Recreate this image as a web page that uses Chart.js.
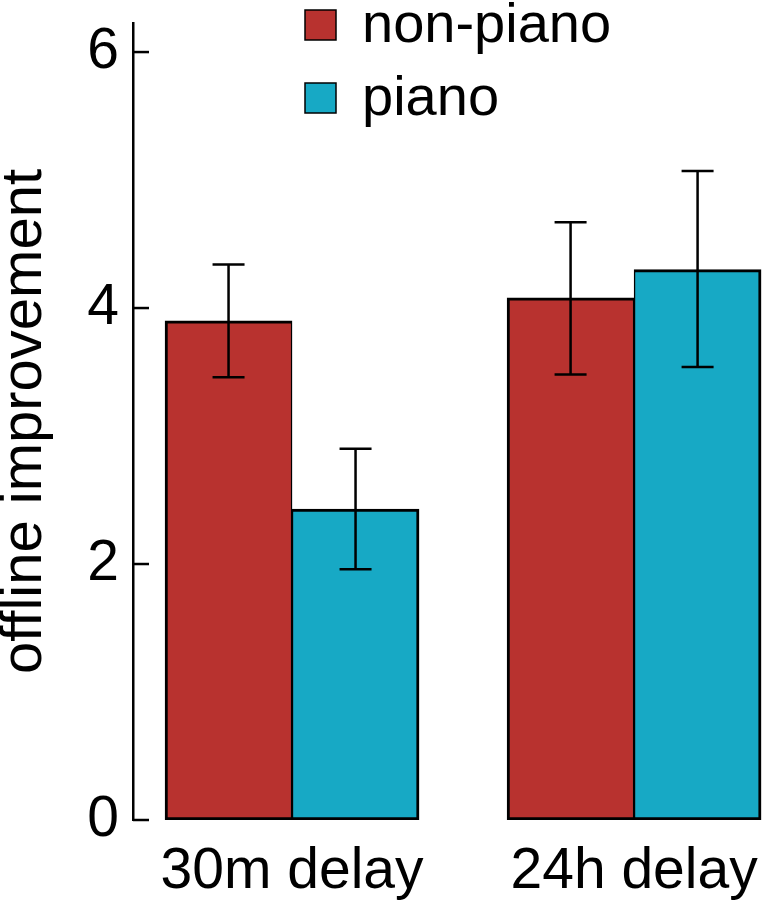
<!DOCTYPE html>
<html>
<head>
<meta charset="utf-8">
<script src="https://cdn.jsdelivr.net/npm/chart.js@4.4.1/dist/chart.umd.min.js"></script>
<style>
  html, body { margin: 0; padding: 0; background: #fff; }
  #wrap { width: 762px; height: 900px; position: relative; }
</style>
</head>
<body>
<div id="wrap"><canvas id="myChart"></canvas></div>
<script>
// data
const categories = ['30m delay', '24h delay'];
const seriesNames = ['non-piano', 'piano'];
const nonPiano = [3.90, 4.08];
const piano = [2.43, 4.30];
const nonPianoLow = [3.46, 3.48];
const nonPianoHigh = [4.34, 4.67];
const pianoLow = [1.96, 3.54];
const pianoHigh = [2.90, 5.07];
const yTicks = [0, 2, 4, 6];

const FONT = "'Liberation Sans', Arial, sans-serif";
const RED = '#B8322F';
const BLUE = '#17A9C5';

const errors = [
  { low: nonPianoLow, high: nonPianoHigh },
  { low: pianoLow, high: pianoHigh }
];

// error bars, inward tick marks and the legend
const extras = {
  id: 'extras',
  afterDatasetsDraw(chart) {
    const c = chart.ctx;
    const y = chart.scales.y;
    c.save();
    c.strokeStyle = '#000';
    c.lineWidth = 2.5;

    chart.data.datasets.forEach((ds, i) => {
      const meta = chart.getDatasetMeta(i);
      meta.data.forEach((bar, j) => {
        const x = bar.x;
        const yl = y.getPixelForValue(errors[i].low[j]);
        const yh = y.getPixelForValue(errors[i].high[j]);
        c.beginPath();
        c.moveTo(x, yl); c.lineTo(x, yh);
        c.moveTo(x - 16, yh); c.lineTo(x + 16, yh);
        c.moveTo(x - 16, yl); c.lineTo(x + 16, yl);
        c.stroke();
      });
    });

    // tick marks pointing into the plot
    y.ticks.forEach(t => {
      const py = y.getPixelForValue(t.value);
      c.beginPath();
      c.moveTo(y.right, py);
      c.lineTo(y.right + 16, py);
      c.stroke();
    });

    // legend
    c.font = '56px ' + FONT;
    c.textBaseline = 'alphabetic';
    c.textAlign = 'left';
    chart.data.datasets.forEach((ds, i) => {
      const top = 10 + i * 73;
      c.fillStyle = ds.backgroundColor;
      c.fillRect(305, top, 31, 30);
      c.lineWidth = 1.5;
      c.strokeRect(305, top, 31, 30);
      c.fillStyle = '#000';
      c.fillText(ds.label, 362, top + 32);
    });
    c.restore();
  }
};

const ctx = document.getElementById('myChart').getContext('2d');

const myChart = new Chart(ctx, {
  type: 'bar',
  data: {
    datasets: [
      {
        label: seriesNames[0],
        data: nonPiano.map((v, i) => ({ x: i, y: v })),
        backgroundColor: RED,
        borderColor: '#000',
        borderWidth: { top: 3, bottom: 3, left: 3, right: 1.5 },
        borderSkipped: false
      },
      {
        label: seriesNames[1],
        data: piano.map((v, i) => ({ x: i, y: v })),
        backgroundColor: BLUE,
        borderColor: '#000',
        borderWidth: { top: 3, bottom: 3, left: 1.5, right: 3 },
        borderSkipped: false
      }
    ]
  },
  options: {
    responsive: true,
    maintainAspectRatio: false,
    animation: false,
    barThickness: 127,
    layout: { padding: { top: 23, left: 0, right: 0, bottom: 0 } },
    plugins: {
      legend: { display: false },
      tooltip: { enabled: false }
    },
    scales: {
      x: {
        type: 'linear',
        offset: false,
        bounds: 'data',
        min: -0.465,
        max: 1.374,
        grid: { display: false },
        border: { display: false },
        afterBuildTicks: s => { s.ticks = categories.map((c, i) => ({ value: i })); },
        afterFit: s => { s.height = 80; s.paddingLeft = 0; s.paddingRight = 0; },
        ticks: {
          color: '#000',
          font: { family: FONT, size: 57 },
          padding: 10,
          maxRotation: 0,
          autoSkip: false,
          callback: v => categories[v]
        }
      },
      y: {
        min: 0,
        max: 6.227,
        grid: { display: false },
        border: { display: true, color: '#000', width: 2.5 },
        afterBuildTicks: s => { s.ticks = yTicks.map(v => ({ value: v })); },
        afterFit: s => { s.width = 133; s.paddingTop = 0; s.paddingBottom = 0; },
        ticks: {
          color: '#000',
          font: { family: FONT, size: 57 },
          padding: 6
        },
        title: {
          display: true,
          text: 'offline improvement',
          color: '#000',
          font: { family: FONT, size: 58, lineHeight: 1 },
          padding: { top: -4, bottom: 0 }
        }
      }
    }
  },
  plugins: [extras]
});
</script>
</body>
</html>
